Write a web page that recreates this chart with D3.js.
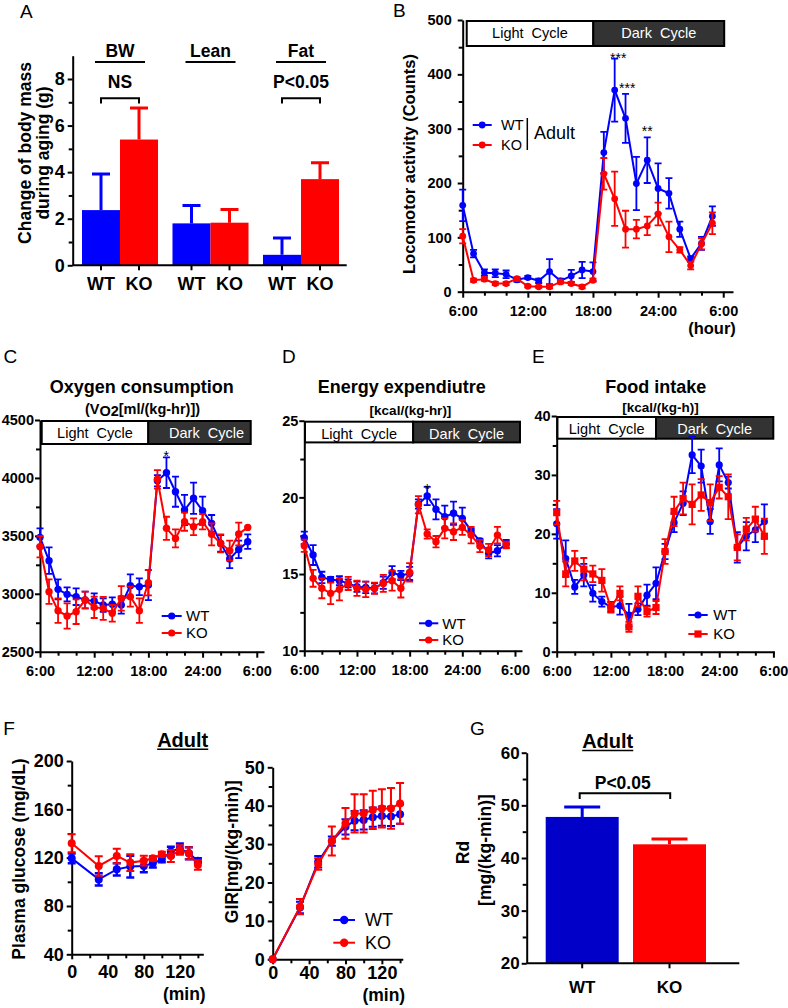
<!DOCTYPE html>
<html><head><meta charset="utf-8">
<script src="https://cdn.jsdelivr.net/npm/d3@7"></script>
<style>
body{margin:0;background:#fff;}
svg{display:block;}
text{font-family:'Liberation Sans',Arial,Helvetica,sans-serif;}
</style></head><body>
<script>
// ================= DATA =================
// Panel A
const massGroups = ["BW", "Lean", "Fat"];
const genotypes = ["WT", "KO"];
const massWT = [2.37, 1.80, 0.45];
const massWTsem = [1.55, 0.77, 0.72];
const massKO = [5.40, 1.83, 3.70];
const massKOsem = [1.35, 0.57, 0.70];
const massTicks = [0, 2, 4, 6, 8];
const massMinor = [1, 3, 5, 7];
const massSig = ["NS", "", "P<0.05"];

// Time axis shared by B-E
const hours = [6,7,8,9,10,11,12,13,14,15,16,17,18,19,20,21,22,23,24,25,26,27,28,29];
const hourTicks = [6, 12, 18, 24, 30];
const hourMinor = [8, 10, 14, 16, 20, 22, 26, 28];
const hourLabels = ["6:00", "12:00", "18:00", "24:00", "6:00"];

// Panel B: locomotor activity
const locoWT    = [159,70,35,34,32,22,26,20,37,20,29,40,37,256,371,319,199,242,190,181,115,61,89,139];
const locoWTerr = [29,7,6,7,7,4,3,4,23,4,11,15,17,38,58,45,49,42,46,28,14,4,12,18];
const locoKO    = [102,21,23,15,15,24,10,9,9,18,15,9,21,217,171,115,115,121,143,101,77,48,88,126];
const locoKOerr = [13,3,3,3,3,3,2,2,3,3,3,3,3,29,50,34,17,17,21,28,5,7,10,20];
const locoTicks = [0,100,200,300,400,500];
const locoMinor = [50,150,250,350,450];

// Panel C: oxygen consumption
const vo2WT    = [3487,3286,3038,2995,2975,2946,2937,2903,2909,2903,3070,3061,3075,3976,4045,3881,3723,3824,3717,3608,3435,3300,3383,3450];
const vo2WTerr = [78,115,86,60,72,72,66,58,60,75,98,72,130,49,132,130,130,135,121,72,72,78,75,63];
const vo2KO    = [3406,3018,2854,2808,2845,2946,2883,2874,2831,2960,2975,2854,3096,3988,3565,3478,3622,3579,3622,3513,3435,3372,3516,3573];
const vo2KOerr = [92,106,106,109,106,72,92,100,72,106,86,106,109,80,100,78,78,72,66,95,78,86,98,0];
const vo2Ticks = [2500,3000,3500,4000,4500];
const vo2Minor = [2750,3250,3750,4250];

// Panel D: energy expenditure
const eeWT    = [17.37,16.24,14.78,14.65,14.57,14.39,14.17,14.13,14.07,14.43,15.09,14.91,15.04,19.57,20.09,19.22,18.74,18.96,18.63,17.83,17.15,16.35,16.52,16.96];
const eeWTerr = [0.4,0.65,0.37,0.17,0.3,0.26,0.33,0.37,0.33,0.4,0.43,0.3,0.43,0.3,0.6,0.65,0.72,0.76,0.7,0.15,0.15,0.33,0.37,0.26];
const eeKO    = [16.85,14.72,14.07,13.74,14.0,14.39,14.07,14.0,14.07,14.39,14.57,14.07,15.11,19.52,17.61,17.11,17.98,17.76,18.04,17.54,16.83,16.57,17.54,16.89];
const eeKOerr = [0.4,0.55,0.65,0.7,0.72,0.43,0.5,0.5,0.37,0.55,0.65,0.6,0.6,0.56,0.3,0.37,0.65,0.54,0.48,0.54,0.4,0.4,0.54,0.22];
const eeTicks = [10,15,20,25];
const eeMinor = [12.5,17.5,22.5];

// Panel E: food intake
const foodWT    = [21.7,15.8,11.0,13.0,9.9,8.5,7.6,7.8,6.2,7.2,9.6,11.6,17.0,21.9,25.2,33.4,31.5,22.1,31.7,28.7,17.7,19.6,20.7,22.1];
const foodWTerr = [2.5,3.1,1.2,1.9,1.4,0.85,0.85,1.5,1.9,1.0,1.8,2.7,1.3,1.6,2.0,3.1,2.8,2.1,2.8,1.0,2.6,2.4,2.1,2.9];
const foodKO    = [23.6,13.2,15.4,14.0,13.2,12.1,7.5,9.9,4.2,9.4,6.8,7.5,17.0,23.8,26.0,25.0,26.6,25.3,27.9,26.3,17.7,20.8,22.5,19.6];
const foodKOerr = [2.0,2.1,1.7,1.9,1.4,1.9,0.85,1.2,0.85,1.7,0.85,1.1,2.1,2.5,2.7,3.4,2.7,3.1,1.9,3.8,2.2,1.9,2.1,3.0];
const foodTicks = [0,10,20,30,40];
const foodMinor = [5,15,25,35];

// Panel F: clamp
const clampTimes = [0,30,50,65,80,90,100,110,120,130,140];
const glucWT    = [119.4,102,110.3,112.6,113,115.3,118.6,125,127.7,123.6,117.5];
const glucWTerr = [4,5,5,9,5,3.5,2.5,4,4,5,2];
const glucKO    = [131.9,113.1,121.4,115.9,117.5,119.4,122.8,121.4,126.3,123.6,113.9];
const glucKOerr = [7.5,8,6,7,4,2,2,5,4,5,4];
const glucTicks = [40,80,120,160,200];
const glucMinor = [60,100,140,180];
const girWT    = [0,13.5,25.4,30.8,34.5,36.1,36.3,37.0,37.3,37.2,37.8];
const girWTerr = [0,1.5,1.5,1.2,2,2.5,2.5,2.5,2.5,2.5,2.5];
const girKO    = [0,13.7,24.8,30.8,35.4,38.0,38.0,38.9,39.3,39.3,40.6];
const girKOerr = [0,2,1.5,3.8,4,5,5,5,5,5.3,5.3];
const girTicks = [0,10,20,30,40,50];
const girMinor = [5,15,25,35,45];
const minTicks = [0,40,80,120];
const minMinor = [20,60,100,140];

// Panel G
const rdGroups = ["WT", "KO"];
const rdMean = [47.8, 42.6];
const rdSem = [1.9, 1.0];
const rdTicks = [20,30,40,50,60];
const rdMinor = [25,35,45,55];

// ================= DRAWING =================
const BLUE = "#0000ff", RED = "#ff0000", DARKBLUE = "#0000c8";
const FONT = "'Liberation Sans',Arial,Helvetica,sans-serif";
const svg = d3.select("body").append("svg").attr("width", 788).attr("height", 1008);

function txt(g, x, y, s, o = {}) {
  const t = g.append("text").attr("x", x).attr("y", y).text(s)
    .attr("font-size", o.size || 16)
    .attr("font-weight", o.bold ? "bold" : "normal")
    .attr("text-anchor", o.anchor || "middle")
    .attr("fill", o.fill || "#000");
  if (o.rotate) t.attr("transform", `rotate(-90,${x},${y})`);
  if (o.pre) t.style("white-space", "pre");
  return t;
}
function styleAxis(a, size) {
  a.select(".domain").attr("stroke", "#000").attr("stroke-width", 2);
  a.selectAll(".tick line").attr("stroke", "#000").attr("stroke-width", 2);
  a.selectAll(".tick text").attr("fill", "#000").attr("font-size", size)
    .attr("font-weight", "bold").attr("font-family", FONT);
}
function yAxis(g, y, x0, major, minor, o = {}) {
  const a = g.append("g").attr("transform", `translate(${x0},0)`)
    .call(d3.axisLeft(y).tickValues(major).tickSize(o.tick || 5).tickSizeOuter(0)
      .tickPadding(o.pad == null ? 3 : o.pad).tickFormat(o.fmt || (d => d)));
  styleAxis(a, o.size || 16);
  if (minor) {
    const m = g.append("g").attr("transform", `translate(${x0},0)`)
      .call(d3.axisLeft(y).tickValues(minor).tickSize(o.minorTick || 4).tickFormat(""));
    m.select(".domain").remove();
    m.selectAll(".tick line").attr("stroke", "#000").attr("stroke-width", 2);
  }
}
function xAxis(g, x, y0, major, minor, o = {}) {
  const a = g.append("g").attr("transform", `translate(0,${y0})`)
    .call(d3.axisBottom(x).tickValues(major).tickSize(o.tick || 6).tickSizeOuter(0)
      .tickPadding(o.pad == null ? 6 : o.pad).tickFormat(o.fmt || (d => d)));
  styleAxis(a, o.size || 16);
  if (minor) {
    const m = g.append("g").attr("transform", `translate(0,${y0})`)
      .call(d3.axisBottom(x).tickValues(minor).tickSize(o.minorTick || 4).tickFormat(""));
    m.select(".domain").remove();
    m.selectAll(".tick line").attr("stroke", "#000").attr("stroke-width", 2);
  }
}
function series(g, x, y, xs, vals, errs, color, o = {}) {
  const cap = o.cap || 7, r = o.r || 3.6;
  const pts = xs.map((t, i) => ({ t, v: vals[i], e: errs[i] }));
  const s = g.append("g");
  s.selectAll("path.err").data(pts.filter(d => d.e > 0)).join("path").attr("class", "err")
    .attr("d", d => {
      const cx = x(d.t), yt = y(d.v + d.e), yb = y(d.v - d.e);
      return `M${cx},${yb}V${yt}M${cx - cap / 2},${yt}H${cx + cap / 2}M${cx - cap / 2},${yb}H${cx + cap / 2}`;
    })
    .attr("stroke", color).attr("stroke-width", o.ew || 1.8).attr("fill", "none");
  s.append("path").datum(pts)
    .attr("d", d3.line().x(d => x(d.t)).y(d => y(d.v)))
    .attr("fill", "none").attr("stroke", color).attr("stroke-width", o.lw || 2);
  if (o.square) {
    s.selectAll("rect.pt").data(pts).join("rect").attr("class", "pt")
      .attr("x", d => x(d.t) - r).attr("y", d => y(d.v) - r)
      .attr("width", 2 * r).attr("height", 2 * r).attr("fill", color);
  } else {
    s.selectAll("circle.pt").data(pts).join("circle").attr("class", "pt")
      .attr("cx", d => x(d.t)).attr("cy", d => y(d.v)).attr("r", r).attr("fill", color);
  }
}
function legend(g, items, o) {
  items.forEach((it, i) => {
    const yy = o.ys[i];
    g.append("line").attr("x1", o.x0).attr("x2", o.x1).attr("y1", yy).attr("y2", yy)
      .attr("stroke", it.color).attr("stroke-width", 2);
    const mx = (o.x0 + o.x1) / 2, r = o.r || 3.6;
    if (it.square) g.append("rect").attr("x", mx - r).attr("y", yy - r).attr("width", 2 * r).attr("height", 2 * r).attr("fill", it.color);
    else g.append("circle").attr("cx", mx).attr("cy", yy).attr("r", r).attr("fill", it.color);
    txt(g, o.tx, yy + o.size * 0.36, it.label, { size: o.size, anchor: "start" });
  });
}
function panelLetter(x, y, s) { txt(svg, x, y, s, { size: 19, anchor: "start" }); }

// ---------- Panel A ----------
(function () {
  const g = svg.append("g");
  panelLetter(20, 17.5, "A");
  const y = d3.scaleLinear().domain([0, 9]).range([265.3, 55.7]);
  const xg = d3.scaleBand().domain(massGroups).range([82, 339]).paddingInner(0.16).paddingOuter(0);
  const xs = d3.scaleBand().domain(genotypes).range([0, xg.bandwidth()]);
  const rows = massGroups.flatMap((grp, i) => [
    { grp, gt: "WT", v: massWT[i], e: massWTsem[i], c: BLUE },
    { grp, gt: "KO", v: massKO[i], e: massKOsem[i], c: RED }]);
  const cx = d => xg(d.grp) + xs(d.gt) + xs.bandwidth() / 2;
  g.selectAll("path.eb").data(rows).join("path").attr("class", "eb")
    .attr("d", d => `M${cx(d)},${y(d.v)}V${y(d.v + d.e)}M${cx(d) - 9},${y(d.v + d.e)}H${cx(d) + 9}`)
    .attr("stroke", d => d.c).attr("stroke-width", 3).attr("fill", "none");
  g.selectAll("rect.bar").data(rows).join("rect").attr("class", "bar")
    .attr("x", d => xg(d.grp) + xs(d.gt)).attr("width", xs.bandwidth())
    .attr("y", d => y(d.v)).attr("height", d => y(0) - y(d.v)).attr("fill", d => d.c);
  yAxis(g, y, 72.7, massTicks, massMinor, { size: 18, pad: 3, tick: 5 });
  g.append("line").attr("x1", 72.7).attr("x2", 346.7).attr("y1", y(0)).attr("y2", y(0)).attr("stroke", "#000").attr("stroke-width", 2);
  g.selectAll("line.xt").data(rows).join("line").attr("class", "xt")
    .attr("x1", cx).attr("x2", cx).attr("y1", y(0)).attr("y2", y(0) + 5).attr("stroke", "#000").attr("stroke-width", 2);
  rows.forEach(d => txt(g, cx(d), 289.5, d.gt, { size: 18, bold: true }));
  massGroups.forEach((grp, i) => {
    const c = xg(grp) + xg.bandwidth() / 2;
    txt(g, c, y(8.93), grp, { size: 17.5, bold: true });
    g.append("line").attr("x1", c - 25).attr("x2", c + 25).attr("y1", y(8.73)).attr("y2", y(8.73)).attr("stroke", "#000").attr("stroke-width", 2);
    if (massSig[i]) {
      txt(g, c, y(7.61), massSig[i], { size: 17.5, bold: true });
      const a = xg(grp) + xs.bandwidth() / 2, b = xg(grp) + xs.bandwidth() * 1.5;
      g.append("path").attr("d", `M${a},${y(6.95)}V${y(7.17)}H${b}V${y(6.95)}`)
        .attr("fill", "none").attr("stroke", "#000").attr("stroke-width", 2);
    }
  });
  txt(g, 30.6, 153, "Change of body mass", { size: 17.5, bold: true, rotate: true });
  txt(g, 48.6, 153, "during aging (g)", { size: 17.5, bold: true, rotate: true });
})();

// ---------- Time panels (B-E) ----------
function timePanel(c) {
  const g = svg.append("g");
  const x = d3.scaleLinear().domain(c.xDomain).range(c.xRange);
  const y = d3.scaleLinear().domain(c.yDomain).range(c.yRange);
  const bt = c.yRange[1] + 1, bb = bt + c.boxH;
  g.append("rect").attr("x", x(c.cycle[0])).attr("y", bt).attr("width", x(c.cycle[1]) - x(c.cycle[0])).attr("height", bb - bt)
    .attr("fill", "#fff").attr("stroke", "#000").attr("stroke-width", 2);
  g.append("rect").attr("x", x(c.cycle[1])).attr("y", bt).attr("width", x(c.cycle[2]) - x(c.cycle[1])).attr("height", bb - bt)
    .attr("fill", "#333").attr("stroke", "#000").attr("stroke-width", 2);
  txt(g, (x(c.cycle[0]) + x(c.cycle[1])) / 2 + (c.ldx || 0), bt + 16.8, "Light  Cycle", { size: 14.5, pre: true });
  txt(g, (x(c.cycle[1]) + x(c.cycle[2])) / 2 + (c.ddx || 0), bt + 16.8, "Dark  Cycle", { size: 14.5, pre: true, fill: "#fff" });
  yAxis(g, y, c.xRange[0], c.yTicks, c.yMinor, { size: c.tsize, pad: c.ypad, tick: 5 });
  xAxis(g, x, c.yRange[0], hourTicks, hourMinor, { size: c.tsize, pad: c.xpad, tick: 6, fmt: (d, i) => hourLabels[i] });
  series(g, x, y, hours, c.wt, c.wtErr, BLUE, { r: c.r });
  series(g, x, y, hours, c.ko, c.koErr, RED, { r: c.r, square: c.square });
  (c.stars || []).forEach(s => txt(g, x(s.h), y(s.v), s.s, { size: 14 }));
  if (c.title) txt(g, c.titleX, c.titleY, c.title, { size: 18, bold: true });
  return { g, x, y };
}

// Panel B
(function () {
  panelLetter(393, 17, "B");
  const p = timePanel({
    xDomain: [6, 30.9], xRange: [462.7, 733], yDomain: [0, 500], yRange: [291.7, 20],
    yTicks: locoTicks, yMinor: locoMinor, tsize: 14.5, ypad: 6, xpad: 8, boxH: 25,
    cycle: [6.37, 18.03, 30.09], wt: locoWT, wtErr: locoWTerr, ko: locoKO, koErr: locoKOerr, r: 3.4,
    stars: [{ h: 20.33, v: 420, s: "***" }, { h: 21.16, v: 365, s: "***" }, { h: 23.0, v: 286, s: "**" }]
  });
  legend(p.g, [{ label: "WT", color: BLUE }, { label: "KO", color: RED }],
    { x0: 472.7, x1: 491.7, ys: [125, 145], tx: 501, size: 14.5, r: 3.4 });
  p.g.append("line").attr("x1", 527.3).attr("x2", 527.3).attr("y1", 118).attr("y2", 150).attr("stroke", "#000").attr("stroke-width", 1.5);
  txt(p.g, 534, 139, "Adult", { size: 18, anchor: "start" });
  txt(p.g, 414.5, 164, "Locomotor activity (Counts)", { size: 16.5, bold: true, rotate: true });
  txt(p.g, 712, 334, "(hour)", { size: 16.5, bold: true });
})();

// Panel C
(function () {
  panelLetter(3.5, 363, "C");
  const p = timePanel({
    xDomain: [6, 30.8], xRange: [40, 264], yDomain: [2500, 4500], yRange: [651.7, 420],
    yTicks: vo2Ticks, yMinor: vo2Minor, tsize: 14.5, ypad: 1, xpad: 8, boxH: 23,
    cycle: [6.19, 17.99, 29.33], ddx: 7, wt: vo2WT, wtErr: vo2WTerr, ko: vo2KO, koErr: vo2KOerr, r: 3.7,
    stars: [{ h: 19.98, v: 4146, s: "*" }],
    title: "Oxygen consumption", titleX: 141.7, titleY: 393
  });
  const t = txt(p.g, 142.5, 414, "(V", { size: 14.5, bold: true });
  t.append("tspan").attr("dy", 2).text("O2");
  t.append("tspan").attr("dy", -2).text("[ml/(kg-hr)])");
  legend(p.g, [{ label: "WT", color: BLUE }, { label: "KO", color: RED }],
    { x0: 161.7, x1: 181.7, ys: [616, 633], tx: 186, size: 15, r: 3.6 });
})();

// Panel D
(function () {
  panelLetter(282, 363, "D");
  const p = timePanel({
    xDomain: [6, 30.8], xRange: [304.3, 522], yDomain: [10, 25], yRange: [650.7, 420.7],
    yTicks: eeTicks, yMinor: eeMinor, tsize: 14.5, ypad: 1, xpad: 8, boxH: 20.7,
    cycle: [6.08, 18.4, 30.57], wt: eeWT, wtErr: eeWTerr, ko: eeKO, koErr: eeKOerr, r: 3.7,
    stars: [{ h: 20.0, v: 20.2, s: "*" }],
    title: "Energy expendiutre", titleX: 401.7, titleY: 392.7
  });
  txt(p.g, 410.5, 415, "[kcal/(kg-hr)]", { size: 13.5, bold: true });
  legend(p.g, [{ label: "WT", color: BLUE }, { label: "KO", color: RED }],
    { x0: 419, x1: 438.3, ys: [623.3, 640], tx: 442.3, size: 15, r: 3.6 });
})();

// Panel E
(function () {
  panelLetter(532, 363, "E");
  const p = timePanel({
    xDomain: [6, 30.1], xRange: [556.7, 774.3], yDomain: [0, 40], yRange: [651.7, 416],
    yTicks: foodTicks, yMinor: foodMinor, tsize: 14.5, ypad: 1, xpad: 8, boxH: 21.7,
    cycle: [6.07, 17.0, 29.99], wt: foodWT, wtErr: foodWTerr, ko: foodKO, koErr: foodKOerr, r: 3.6, square: true,
    title: "Food intake", titleX: 655.8, titleY: 392.7
  });
  txt(p.g, 660.5, 411.7, "[kcal/(kg-h)]", { size: 13.5, bold: true });
  legend(p.g, [{ label: "WT", color: BLUE }, { label: "KO", color: RED, square: true }],
    { x0: 688.3, x1: 707.7, ys: [615, 634], tx: 713.3, size: 15, r: 3.6 });
})();

// ---------- Panel F ----------
function underlined(g, x, y, s, size) {
  const t = txt(g, x, y, s, { size, bold: true });
  const w = t.node().getComputedTextLength();
  g.append("line").attr("x1", x - w / 2).attr("x2", x + w / 2).attr("y1", y + 2.5).attr("y2", y + 2.5)
    .attr("stroke", "#000").attr("stroke-width", 1.6);
}
(function () {
  const g = svg.append("g");
  panelLetter(3.3, 735, "F");
  underlined(g, 182.7, 746.7, "Adult", 20);
  const x1 = d3.scaleLinear().domain([0, 146]).range([71.7, 203.3]);
  const y1 = d3.scaleLinear().domain([40, 200]).range([954.3, 761]);
  yAxis(g, y1, 71.7, glucTicks, glucMinor, { size: 18, pad: 3, tick: 5 });
  xAxis(g, x1, 954.3, minTicks, minMinor, { size: 18, pad: 6, tick: 5 });
  series(g, x1, y1, clampTimes, glucWT, glucWTerr, BLUE, { r: 4, cap: 8, ew: 2.5 });
  series(g, x1, y1, clampTimes, glucKO, glucKOerr, RED, { r: 4, cap: 8, ew: 2 });
  txt(g, 25.3, 859, "Plasma glucose (mg/dL)", { size: 17.5, bold: true, rotate: true });
  txt(g, 184.3, 999.5, "(min)", { size: 17.5, bold: true });
  const x2 = d3.scaleLinear().domain([0, 143]).range([272.7, 402.8]);
  const y2 = d3.scaleLinear().domain([0, 50]).range([959.3, 767.3]);
  yAxis(g, y2, 272.7, girTicks, girMinor, { size: 18, pad: 3, tick: 5 });
  xAxis(g, x2, 959.3, minTicks, minMinor, { size: 18, pad: 2, tick: 5 });
  series(g, x2, y2, clampTimes, girWT, girWTerr, BLUE, { r: 4, cap: 8, ew: 2 });
  series(g, x2, y2, clampTimes, girKO, girKOerr, RED, { r: 4, cap: 8, ew: 2 });
  txt(g, 237.6, 851.7, "GIR[mg/(kg-min)]", { size: 17.5, bold: true, rotate: true });
  txt(g, 383.8, 1001, "(min)", { size: 17.5, bold: true });
  legend(g, [{ label: "WT", color: BLUE }, { label: "KO", color: RED }],
    { x0: 333.3, x1: 355, ys: [920, 942.7], tx: 365, size: 18, r: 4.2 });
})();

// ---------- Panel G ----------
(function () {
  const g = svg.append("g");
  panelLetter(470, 735, "G");
  underlined(g, 607.7, 748, "Adult", 20);
  const y = d3.scaleLinear().domain([20, 60]).range([963.3, 752.7]);
  const x = d3.scaleBand().domain(rdGroups).range([545.7, 706]).paddingInner(0.164).paddingOuter(0);
  const rows = rdGroups.map((k, i) => ({ k, v: rdMean[i], e: rdSem[i], c: i === 0 ? DARKBLUE : RED, ec: i === 0 ? "#0000e6" : RED }));
  const cx = d => x(d.k) + x.bandwidth() / 2;
  g.selectAll("path.eb").data(rows).join("path").attr("class", "eb")
    .attr("d", d => `M${cx(d)},${y(d.v)}V${y(d.v + d.e)}M${cx(d) - 18},${y(d.v + d.e)}H${cx(d) + 18}`)
    .attr("stroke", d => d.ec).attr("stroke-width", 3).attr("fill", "none");
  g.selectAll("rect.bar").data(rows).join("rect").attr("class", "bar")
    .attr("x", d => x(d.k)).attr("width", x.bandwidth())
    .attr("y", d => y(d.v)).attr("height", d => y(20) - y(d.v)).attr("fill", d => d.c);
  yAxis(g, y, 526.7, rdTicks, rdMinor, { size: 17, pad: 2, tick: 5 });
  g.append("line").attr("x1", 526.7).attr("x2", 739.3).attr("y1", y(20)).attr("y2", y(20)).attr("stroke", "#000").attr("stroke-width", 2);
  g.selectAll("line.xt").data(rows).join("line").attr("class", "xt")
    .attr("x1", cx).attr("x2", cx).attr("y1", y(20)).attr("y2", y(20) + 5).attr("stroke", "#000").attr("stroke-width", 2);
  rows.forEach(d => txt(g, cx(d), 993.3, d.k, { size: 17, bold: true }));
  const a = cx(rows[0]) - 2.5, b = cx(rows[1]) + 0.7;
  g.append("path").attr("d", `M${a},${y(51.2)}V${y(52.3)}H${b}V${y(51.2)}`)
    .attr("fill", "none").attr("stroke", "#000").attr("stroke-width", 2);
  txt(g, 622.7, 789.3, "P<0.05", { size: 17.5, bold: true });
  txt(g, 469.3, 852.5, "Rd", { size: 17.5, bold: true, rotate: true });
  txt(g, 491, 850, "[mg/(kg-min)]", { size: 17.5, bold: true, rotate: true });
})();
</script></body></html>
